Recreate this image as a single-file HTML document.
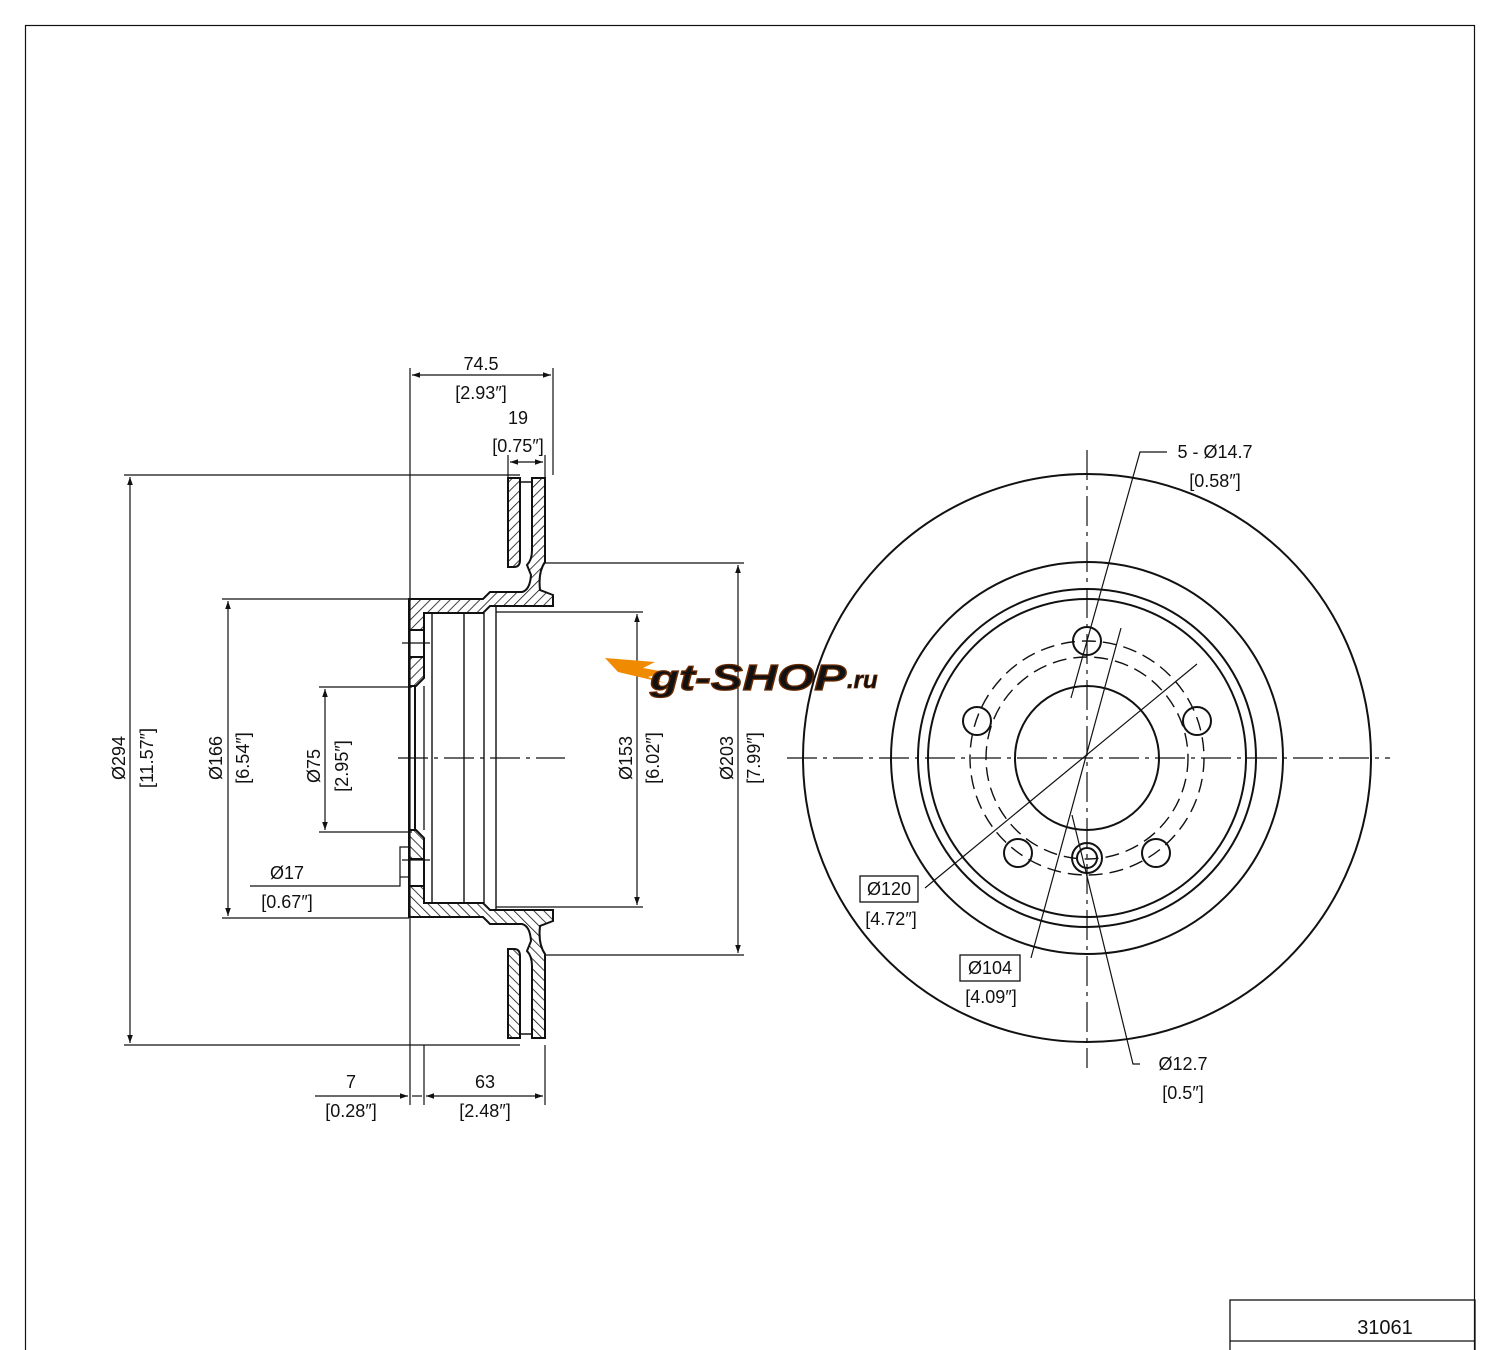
<!DOCTYPE html>
<html><head><meta charset="utf-8"><style>
html,body{margin:0;padding:0;background:#fff;}
svg{display:block;}
text{font-family:"Liberation Sans",sans-serif;font-size:18px;fill:#111;}
</style></head><body>
<svg width="1500" height="1350" viewBox="0 0 1500 1350" xmlns="http://www.w3.org/2000/svg">
<defs>
<pattern id="h" patternUnits="userSpaceOnUse" width="7" height="7" patternTransform="rotate(45)">
<line x1="0" y1="0" x2="0" y2="7" stroke="#111" stroke-width="1.6"/>
</pattern>
<marker id="a" viewBox="0 0 10 10" refX="10" refY="5" markerWidth="10" markerHeight="8" orient="auto-start-reverse" markerUnits="userSpaceOnUse"><path d="M0,1.5 L10,5 L0,8.5 z" fill="#111"/></marker>
</defs>
<rect x="25.5" y="25.5" width="1449" height="1340" fill="none" stroke="#111" stroke-width="1.2"/>

<!-- cross-section -->
<g stroke="#111" stroke-width="2" fill="url(#h)" id="top">
<path d="M508,478 L520,478 L520,560 Q520,567 514,567 L508,567 Z"/>
<path d="M532,478 L545,478 L545,562 Q538,572 540,590 L553,595 L553,606 L490,606 L483,613 L424,613 L424,630 L409,630 L409,599 L483,599 L490,592 L522,592 Q530,590 531,575 L527,565 Q532,560 532,550 Z"/>
<path d="M409,657 L424,657 L424,678 L416,686 L409,686 Z"/>
<line x1="520" y1="482" x2="532" y2="482" stroke-width="1.5"/>
<line x1="409" y1="630" x2="409" y2="657"/>
<line x1="424" y1="630" x2="424" y2="657"/>
</g>
<use href="#top" transform="matrix(1,0,0,-1,0,1516)"/>
<g stroke="#111" stroke-width="2" fill="none">
<line x1="409" y1="686" x2="409" y2="830"/>
<line x1="415" y1="686" x2="415" y2="830"/>
<line x1="424" y1="686" x2="424" y2="830" stroke-width="1.3"/>
<g stroke-width="1.4">
<line x1="432" y1="613" x2="432" y2="903"/>
<line x1="464" y1="613" x2="464" y2="903"/>
<line x1="484" y1="613" x2="484" y2="903"/>
<line x1="496" y1="606" x2="496" y2="910"/>
</g>
</g>
<g stroke="#111" stroke-width="1.2">
<line x1="402" y1="643" x2="430" y2="643"/>
<line x1="402" y1="860" x2="430" y2="860"/>
<line x1="398" y1="758" x2="565" y2="758" stroke-dasharray="30,6,4,6"/>
</g>

<!-- dimension lines -->
<g stroke="#111" stroke-width="1.2" fill="none">
<line x1="410" y1="368" x2="410" y2="1105"/>
<line x1="553" y1="368" x2="553" y2="475"/>
<line x1="424" y1="1045" x2="424" y2="1105"/>
<line x1="545" y1="1045" x2="545" y2="1105"/>
<line x1="508" y1="455" x2="508" y2="478"/>
<line x1="545" y1="455" x2="545" y2="478"/>
<line x1="412" y1="375" x2="551" y2="375" marker-start="url(#a)" marker-end="url(#a)"/>
<line x1="510" y1="462" x2="543" y2="462" marker-start="url(#a)" marker-end="url(#a)"/>
<line x1="124" y1="475" x2="520" y2="475"/>
<line x1="124" y1="1045" x2="520" y2="1045"/>
<line x1="130" y1="477" x2="130" y2="1043" marker-start="url(#a)" marker-end="url(#a)"/>
<line x1="222" y1="599" x2="409" y2="599"/>
<line x1="222" y1="918" x2="409" y2="918"/>
<line x1="228" y1="601" x2="228" y2="916" marker-start="url(#a)" marker-end="url(#a)"/>
<line x1="319" y1="687" x2="412" y2="687"/>
<line x1="319" y1="832" x2="412" y2="832"/>
<line x1="325" y1="689" x2="325" y2="830" marker-start="url(#a)" marker-end="url(#a)"/>
<line x1="496" y1="612" x2="643" y2="612"/>
<line x1="496" y1="907" x2="643" y2="907"/>
<line x1="637" y1="614" x2="637" y2="905" marker-start="url(#a)" marker-end="url(#a)"/>
<line x1="545" y1="563" x2="744" y2="563"/>
<line x1="545" y1="955" x2="744" y2="955"/>
<line x1="738" y1="565" x2="738" y2="953" marker-start="url(#a)" marker-end="url(#a)"/>
<polyline points="250,886 400,886 400,847 408,847"/>
<line x1="400" y1="877" x2="408" y2="877"/>
<line x1="315" y1="1096" x2="408" y2="1096" marker-end="url(#a)"/>
<line x1="426" y1="1096" x2="543" y2="1096" marker-start="url(#a)" marker-end="url(#a)"/>
<line x1="412" y1="1096" x2="422" y2="1096"/>
</g>
<g text-anchor="middle">
<text x="481" y="370">74.5</text><text x="481" y="399">[2.93″]</text>
<text x="518" y="424">19</text><text x="518" y="452">[0.75″]</text>
<text x="287" y="879">Ø17</text><text x="287" y="908">[0.67″]</text>
<text x="351" y="1088">7</text><text x="351" y="1117">[0.28″]</text>
<text x="485" y="1088">63</text><text x="485" y="1117">[2.48″]</text>
<text transform="translate(125,758) rotate(-90)">Ø294</text>
<text transform="translate(153,758) rotate(-90)">[11.57″]</text>
<text transform="translate(222,758) rotate(-90)">Ø166</text>
<text transform="translate(249,758) rotate(-90)">[6.54″]</text>
<text transform="translate(320,766) rotate(-90)">Ø75</text>
<text transform="translate(348,766) rotate(-90)">[2.95″]</text>
<text transform="translate(632,758) rotate(-90)">Ø153</text>
<text transform="translate(659,758) rotate(-90)">[6.02″]</text>
<text transform="translate(733,758) rotate(-90)">Ø203</text>
<text transform="translate(760,758) rotate(-90)">[7.99″]</text>
</g>

<!-- logo -->
<g>
<path d="M605,658 L655,662 L643,668 L665,672 L648,677 L665,683 L618,672 Z" fill="#f08a00"/>
<text x="650" y="690" textLength="196" lengthAdjust="spacingAndGlyphs" font-weight="bold" font-style="italic" fill="#f5a300" stroke="#6a2a00" stroke-width="1.2" style="font-size:36px">gt-SHOP</text>
<text x="847" y="688" font-weight="bold" font-style="italic" fill="#f5a300" stroke="#6a2a00" stroke-width="0.8" style="font-size:24px">.ru</text>
</g>

<!-- front view -->
<g stroke="#111" stroke-width="2" fill="none">
<circle cx="1087" cy="758" r="284"/>
<circle cx="1087" cy="758" r="196"/>
<circle cx="1087" cy="758" r="169"/>
<circle cx="1087" cy="758" r="159"/>
<circle cx="1087" cy="758" r="72"/>
<circle cx="1087" cy="758" r="117" stroke-width="1.4" stroke-dasharray="14,7"/>
<circle cx="1087" cy="758" r="101" stroke-width="1.4" stroke-dasharray="14,7"/>
<circle cx="1087" cy="641" r="14"/>
<circle cx="977" cy="721" r="14"/>
<circle cx="1197" cy="721" r="14"/>
<circle cx="1018" cy="853" r="14"/>
<circle cx="1156" cy="853" r="14"/>
<circle cx="1087" cy="858" r="15"/>
<circle cx="1087" cy="858" r="10"/>
</g>
<g stroke="#111" stroke-width="1.2" fill="none">
<line x1="787" y1="758" x2="1390" y2="758" stroke-dasharray="30,6,4,6"/>
<line x1="1087" y1="450" x2="1087" y2="1068" stroke-dasharray="30,6,4,6"/>
<polyline points="1167,452 1140,452 1071,698"/>
<line x1="1121" y1="628" x2="1031" y2="958"/>
<line x1="1197" y1="664" x2="925" y2="888"/>
<polyline points="1140,1064 1133,1064 1072,815"/>
</g>
<g text-anchor="middle">
<text x="1215" y="458">5 - Ø14.7</text><text x="1215" y="487">[0.58″]</text>
<text x="889" y="895">Ø120</text><text x="891" y="925">[4.72″]</text>
<text x="990" y="974">Ø104</text><text x="991" y="1003">[4.09″]</text>
<text x="1183" y="1070">Ø12.7</text><text x="1183" y="1099">[0.5″]</text>
</g>
<rect x="860" y="876" width="58" height="26" fill="none" stroke="#111" stroke-width="1.3"/>
<rect x="960" y="955" width="60" height="26" fill="none" stroke="#111" stroke-width="1.3"/>

<!-- title block -->
<g stroke="#111" stroke-width="1.3" fill="none">
<rect x="1230" y="1300" width="245" height="60"/>
<line x1="1230" y1="1341" x2="1475" y2="1341"/>
</g>
<text x="1385" y="1334" text-anchor="middle" style="font-size:20px">31061</text>
</svg>
</body></html>
